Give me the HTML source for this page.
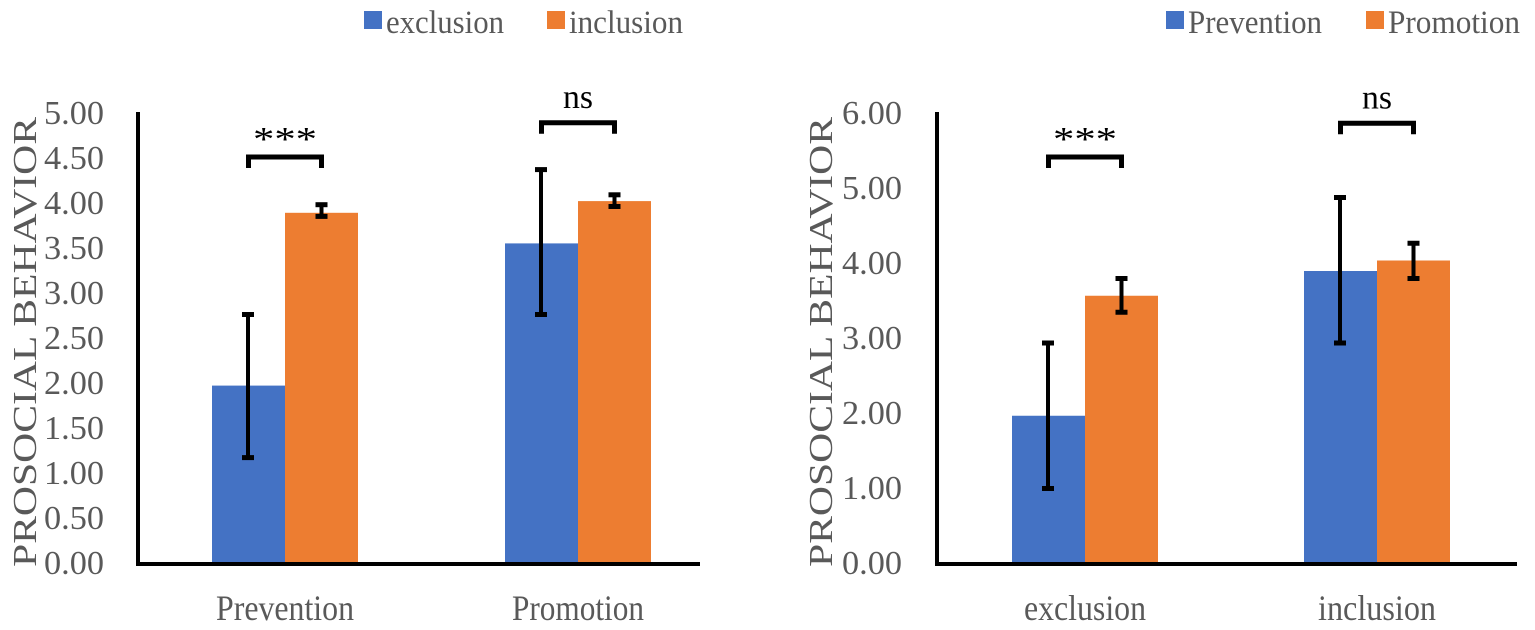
<!DOCTYPE html>
<html><head><meta charset="utf-8"><style>
html,body{margin:0;padding:0;background:#fff;}
svg{display:block;font-family:"Liberation Serif",serif;}
</style></head><body>
<svg id="c" width="1535" height="630" viewBox="0 0 1535 630" xmlns="http://www.w3.org/2000/svg"></svg>
<script>
// Left chart data
const leftCategories = ["Prevention", "Promotion"];
const leftSeries = ["exclusion", "inclusion"];
const leftExclusion = [1.96, 3.54];
const leftInclusion = [3.88, 4.01];
const leftExclusionErrLow = [1.16, 2.75];
const leftExclusionErrHigh = [2.75, 4.36];
const leftInclusionErrLow = [3.84, 3.95];
const leftInclusionErrHigh = [3.97, 4.08];
const leftTicks = ["0.00","0.50","1.00","1.50","2.00","2.50","3.00","3.50","4.00","4.50","5.00"];
const leftSig = ["***", "ns"];
const leftSigLevel = [4.50, 4.88];
// Right chart data
const rightCategories = ["exclusion", "inclusion"];
const rightSeries = ["Prevention", "Promotion"];
const rightPrevention = [1.95, 3.88];
const rightPromotion = [3.55, 4.02];
const rightPreventionErrLow = [0.98, 2.92];
const rightPreventionErrHigh = [2.92, 4.86];
const rightPromotionErrLow = [3.33, 3.78];
const rightPromotionErrHigh = [3.78, 4.25];
const rightTicks = ["0.00","1.00","2.00","3.00","4.00","5.00","6.00"];
const rightSig = ["***", "ns"];
const rightSigLevel = [5.40, 5.85];

const NS = "http://www.w3.org/2000/svg";
const svg = document.getElementById("c");
function mk(tag, attrs, parent){const e=document.createElementNS(NS,tag);for(const k in attrs)e.setAttribute(k,attrs[k]);(parent||svg).appendChild(e);return e;}

function drawChart(o){
  const g = mk("g",{});
  
  
  const maxV = parseFloat(o.ticks[o.ticks.length-1]);
  const y = v => o.y0 - (v/maxV)*(o.y0-o.yTop);
  const colors = ["#4472c4","#ed7d31"];
  o.ticks.forEach(t=>{
    const tx = mk("text",{x:o.tickX,y:y(parseFloat(t))+12,"text-anchor":"end","font-size":34,fill:"#595959","textLength":60,"lengthAdjust":"spacingAndGlyphs"},g);
    tx.textContent=t;
    
    
  });
  const yt = mk("text",{x:0,y:0,transform:`translate(${o.titleX},${(o.yTop+o.y0)/2+5}) rotate(-90)`,"text-anchor":"middle","font-size":34,fill:"#595959","textLength":450,"lengthAdjust":"spacingAndGlyphs"},g);
  yt.textContent="PROSOCIAL BEHAVIOR";
  
  
  o.categories.forEach((cat,i)=>{
    const left = o.catStart[i];
    [0,1].forEach(s=>{
      const v = o.values[s][i];
      const x = left + s*o.barW;
      const r = mk("rect",{x:x,y:y(v),width:o.barW,height:o.y0-y(v),fill:colors[s]},g);
      
      
      const cx = x + o.barW/2 + (s===0?-0.5:0);
      const eg = mk("g",{stroke:"#000","stroke-width":4},g);
      
      
      const lo=y(o.errLow[s][i]), hi=y(o.errHigh[s][i]);
      mk("line",{x1:cx,x2:cx,y1:hi,y2:lo},eg);
      mk("line",{x1:cx-6,x2:cx+6,y1:hi,y2:hi,"stroke-width":5},eg);
      mk("line",{x1:cx-6,x2:cx+6,y1:lo,y2:lo,"stroke-width":5},eg);
    });
    const lbl = mk("text",{x:left+o.barW,y:620,"text-anchor":"middle","font-size":36,fill:"#595959","textLength":o.catW[i],"lengthAdjust":"spacingAndGlyphs"},g);
    lbl.textContent=cat;
    
    
    const bx1 = left + o.barW/2, bx2 = left + 1.5*o.barW;
    const by = y(o.sigLevel[i]);
    const br = mk("path",{d:`M${bx1},${by+11} V${by} H${bx2} V${by+11}`,fill:"none",stroke:"#000","stroke-width":5},g);
    
    
    const isNs = o.sig[i]==="ns";
    const st = mk("text",{x:(bx1+bx2)/2,y:by-(isNs?15:7),"text-anchor":"middle","font-size":isNs?34:34,fill:"#000","textLength":isNs?30:64,"lengthAdjust":"spacingAndGlyphs"},g);
    st.textContent=o.sig[i];
    
    
  });
  const ax = mk("path",{d:`M${o.axisX},${o.yTop} V${o.y0+2} H${o.axisEnd}`,fill:"none",stroke:"#000","stroke-width":4},g);
  
  
  o.series.forEach((s,k)=>{
    const lx = o.legendX[k];
    const r = mk("rect",{x:lx,y:11,width:18,height:18,fill:colors[k]},g);
    
    
    const t = mk("text",{x:lx+22,y:33,"font-size":33,fill:"#595959","textLength":o.legendW[k],"lengthAdjust":"spacingAndGlyphs"},g);
    t.textContent=s;
    
    
  });
}

drawChart({name:"left-chart",categories:leftCategories,series:leftSeries,
  values:[leftExclusion,leftInclusion],errLow:[leftExclusionErrLow,leftInclusionErrLow],errHigh:[leftExclusionErrHigh,leftInclusionErrHigh],
  ticks:leftTicks,sig:leftSig,sigLevel:leftSigLevel,
  y0:562,yTop:112,axisX:138,axisEnd:700,tickX:104,titleX:36,
  catStart:[212,505],barW:73,catW:[138,132],legendX:[364,547],legendW:[118,114]});
drawChart({name:"right-chart",categories:rightCategories,series:rightSeries,
  values:[rightPrevention,rightPromotion],errLow:[rightPreventionErrLow,rightPromotionErrLow],errHigh:[rightPreventionErrHigh,rightPromotionErrHigh],
  ticks:rightTicks,sig:rightSig,sigLevel:rightSigLevel,
  y0:562,yTop:112,axisX:937,axisEnd:1517,tickX:902,titleX:832,
  catStart:[1012,1304],barW:73,catW:[122,118],legendX:[1166,1366],legendW:[134,132]});
</script>
</body></html>
